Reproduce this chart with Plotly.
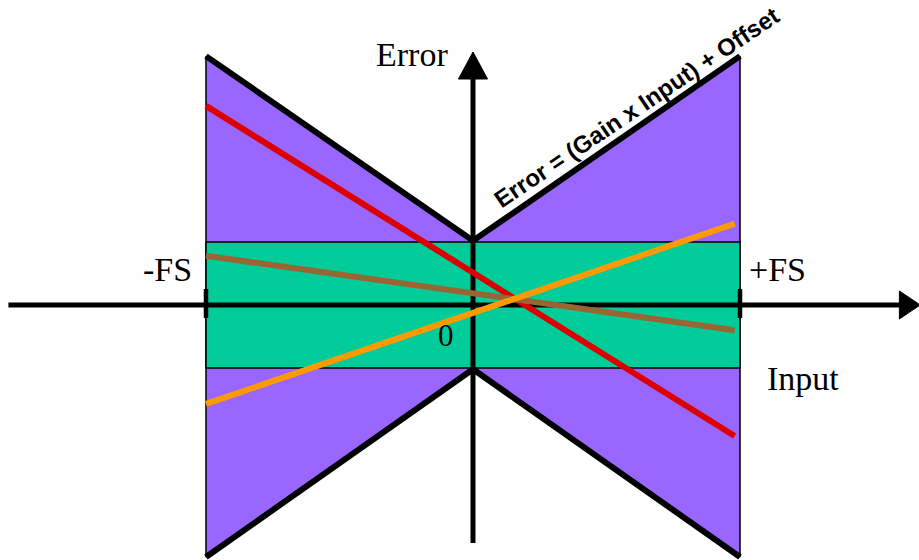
import plotly.graph_objects as go

# ---- data (x in units of full scale, y in units of the offset error) ----
fs = [-1.0, 1.0]                 # -FS, +FS
envelope_upper_fs = 3.95         # upper gain+offset error bound at full scale
envelope_lower_fs = -4.0         # lower gain+offset error bound at full scale
envelope_at_zero = 1.02          # bound at zero input (offset only)
offset_band = 1.0                # offset-only error band
line_x = [-1.0, 0.98]
red_err = [3.16, -2.08]
brown_err = [0.78, -0.40]
orange_err = [-1.57, 1.29]
labels = {"err": "Error", "inp": "Input", "mfs": "-FS", "pfs": "+FS", "zero": "0",
          "eq": "Error = (Gain x Input) + Offset"}

PURPLE = "#9966FF"
GREEN = "#00CC99"

fig = go.Figure()

# purple bow-tie envelope
bx = [fs[0], 0, fs[1], fs[1], 0, fs[0], fs[0]]
by = [envelope_upper_fs, envelope_at_zero, envelope_upper_fs, envelope_lower_fs,
      -envelope_at_zero, envelope_lower_fs, envelope_upper_fs]
fig.add_trace(go.Scatter(x=bx, y=by, fill="toself", fillcolor=PURPLE, mode="lines",
                         line=dict(color="black", width=1.5), hoverinfo="skip"))

# green offset band
gx = [fs[0], fs[1], fs[1], fs[0], fs[0]]
gy = [offset_band, offset_band, -offset_band, -offset_band, offset_band]
fig.add_trace(go.Scatter(x=gx, y=gy, fill="toself", fillcolor=GREEN, mode="lines",
                         line=dict(color="black", width=1.5), hoverinfo="skip"))

# thick envelope edges
for edge, mid in ((envelope_upper_fs, envelope_at_zero), (envelope_lower_fs, -envelope_at_zero)):
    fig.add_trace(go.Scatter(x=[fs[0], 0, fs[1]], y=[edge, mid, edge],
                             mode="lines", line=dict(color="black", width=6), hoverinfo="skip"))

# axes
x_left, x_tip, x_base = -1.74, 1.675, 1.597
y_bot, y_tip, y_base = -3.78, 4.016, 3.587
fig.add_trace(go.Scatter(x=[x_left, x_base], y=[0, 0], mode="lines",
                         line=dict(color="black", width=5), hoverinfo="skip"))
fig.add_trace(go.Scatter(x=[0, 0], y=[y_bot, y_base], mode="lines",
                         line=dict(color="black", width=5), hoverinfo="skip"))
fig.add_trace(go.Scatter(x=[x_base, x_tip, x_base, x_base], y=[0.222, 0, -0.222, 0.222],
                         fill="toself", fillcolor="black", mode="lines",
                         line=dict(color="black", width=1), hoverinfo="skip"))
fig.add_trace(go.Scatter(x=[-0.0544, 0, 0.0544, -0.0544], y=[y_base, y_tip, y_base, y_base],
                         fill="toself", fillcolor="black", mode="lines",
                         line=dict(color="black", width=1), hoverinfo="skip"))
# FS tick marks
for xv in fs:
    fig.add_trace(go.Scatter(x=[xv, xv], y=[0.254, -0.206], mode="lines",
                             line=dict(color="black", width=4.5), hoverinfo="skip"))

# error lines
for ys, col in ((red_err, "#DD0000"), (brown_err, "#996633"), (orange_err, "#FF9900")):
    fig.add_trace(go.Scatter(x=line_x, y=ys, mode="lines",
                             line=dict(color=col, width=6), hoverinfo="skip"))

serif = dict(family="Liberation Serif", size=34, color="black")
ann = [
    dict(x=-0.228, y=3.97, text=labels["err"]),
    dict(x=-1.146, y=0.56, text=labels["mfs"]),
    dict(x=1.142, y=0.56, text=labels["pfs"]),
    dict(x=1.236, y=-1.17, text=labels["inp"]),
    dict(x=-0.101, y=-0.49, text=labels["zero"], font=dict(family="Liberation Serif", size=31, color="black")),
]
for a in ann:
    fig.add_annotation(x=a["x"], y=a["y"], text=a["text"], showarrow=False,
                       font=a.get("font", serif), xanchor="center", yanchor="middle")
fig.add_annotation(x=0.612, y=3.13, text="<b>" + labels["eq"] + "</b>", showarrow=False,
                   textangle=-34, font=dict(family="Liberation Sans", size=24, color="black"),
                   xanchor="center", yanchor="middle")

fig.update_layout(width=919, height=560, margin=dict(l=0, r=0, t=0, b=0),
                  showlegend=False, plot_bgcolor="white", paper_bgcolor="white",
                  xaxis=dict(range=[-1.7715, 1.6704], visible=False, fixedrange=True),
                  yaxis=dict(range=[-4.048, 4.841], visible=False, fixedrange=True))
fig.write_html("out.html", config={"displayModeBar": False},
               post_script="document.body.style.margin='0';document.body.style.overflow='hidden';")
